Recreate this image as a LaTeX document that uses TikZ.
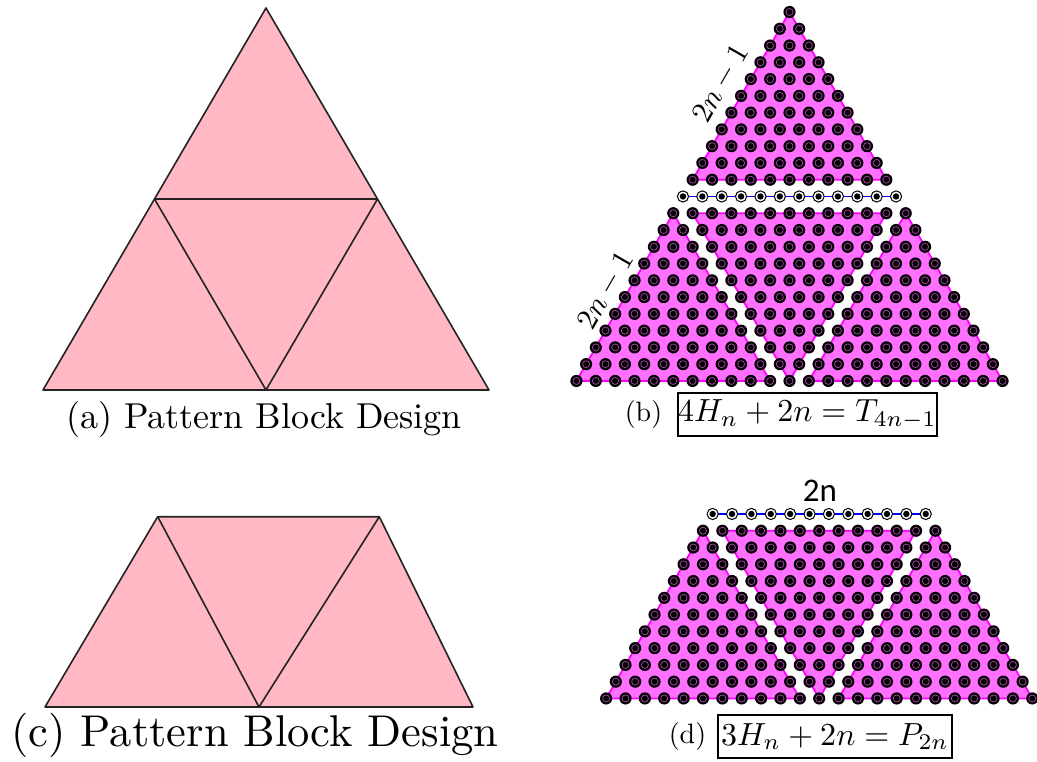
\documentclass[tikz,border=0pt]{standalone}
\usepackage{fontspec}
\newfontfamily\sanslabel{Carlito}
\usetikzlibrary{calc}

\definecolor{blockpink}{RGB}{255,184,196}
\definecolor{blockedge}{RGB}{35,35,35}
\definecolor{regionfill}{RGB}{255,112,255}
\definecolor{regionedge}{RGB}{255,0,255}
\definecolor{beadring}{RGB}{175,70,175}

\def\dd{19.37}
\def\hh{16.77}

\begin{document}
\begin{tikzpicture}[x=1pt,y=-1pt,
	block/.style={fill=blockpink, draw=blockedge, line width=1.6pt, line join=round},
	region/.style={fill=regionfill, draw=regionedge, line width=1.8pt, line join=round},
	blueline/.style={blue, line width=1.8pt},
	caption/.style={font=\fontsize{10}{12}\selectfont, inner sep=0pt, anchor=base},
	eqbox/.style={draw, line width=1.5pt, font=\fontsize{10}{12}\selectfont, scale=3.2, inner sep=0pt, minimum height=13.4pt},
	sidelabel/.style={font=\fontsize{10}{12}\selectfont, scale=3, rotate=60, inner sep=0pt}
	]
	\useasboundingbox (0,0) rectangle (1037,762);
	
	% (a) pattern block triangle
	\coordinate (aT) at (266,8);
	\coordinate (aL) at (43,390);
	\coordinate (aR) at (489,390);
	\coordinate (aML) at ($(aT)!0.5!(aL)$);
	\coordinate (aMR) at ($(aT)!0.5!(aR)$);
	\coordinate (aMB) at ($(aL)!0.5!(aR)$);
	\draw[block] (aT) -- (aL) -- (aR) -- cycle;
	\draw[block, fill=none] (aML) -- (aMR) -- (aMB) -- cycle;
	\node[caption, scale=3.6] (capa) at (264,428) {(a) Pattern Block Design};
	
	% (c) pattern block trapezoid
	\coordinate (cTL) at (157.7,516.7);
	\coordinate (cTR) at (379.3,516.7);
	\coordinate (cL) at (45,707);
	\coordinate (cM) at (259,707);
	\coordinate (cR) at (473,707);
	\draw[block] (cTL) -- (cTR) -- (cR) -- (cL) -- cycle;
	\draw[block, fill=none] (cTL) -- (cM) -- (cTR);
	\node[caption, scale=4.45] (capc) at (255,746) {(c) Pattern Block Design};
	
	% lattice points of (b) and (d)
	\foreach \r in {1,...,23}{
		\pgfmathtruncatemacro\kmax{\r-1}
		\foreach \k in {0,...,\kmax}
			\coordinate (b-\r-\k) at ({789.5+(\k-(\r-1)/2)*\dd}, {12+(\r-1)*\hh});
	}
	\foreach \r in {12,...,23}{
		\pgfmathtruncatemacro\kmax{\r-1}
		\foreach \k in {0,...,\kmax}
			\coordinate (d-\r-\k) at ($(b-\r-\k)+(29.7,317.5)$);
	}
	
	% (b) regions
	\draw[region] (b-1-0) -- (b-11-0) -- (b-11-10) -- cycle;
	\foreach \p in {b,d}{
		\draw[region] (\p-13-0) -- (\p-23-0) -- (\p-23-10) -- cycle;
		\draw[region] (\p-13-1) -- (\p-13-11) -- (\p-23-11) -- cycle;
		\draw[region] (\p-13-12) -- (\p-23-12) -- (\p-23-22) -- cycle;
		\draw[blueline] (\p-12-0) -- (\p-12-11);
		\foreach \k in {0,...,11}{
			\filldraw[fill=white, draw=black, line width=1pt] (\p-12-\k) circle (5.6pt);
			\fill (\p-12-\k) circle (3.2pt);
		}
	}
	
	% beads
	\foreach \r in {1,...,11,13,14,...,23}{
		\pgfmathtruncatemacro\kmax{\r-1}
		\foreach \k in {0,...,\kmax}{
			\fill (b-\r-\k) circle (6.1pt);
			\draw[beadring, line width=0.7pt] (b-\r-\k) circle (3.5pt);
		}
	}
	\foreach \r in {13,...,23}{
		\pgfmathtruncatemacro\kmax{\r-1}
		\foreach \k in {0,...,\kmax}{
			\fill (d-\r-\k) circle (6.1pt);
			\draw[beadring, line width=0.7pt] (d-\r-\k) circle (3.5pt);
		}
	}
	
	% labels
	\node[sidelabel] (sideb1) at (721,84) {$2n-1$};
	\node[sidelabel] (sideb2) at (606,291) {$2n-1$};
	\node[font=\sanslabel\fontsize{33}{33}\selectfont, inner sep=0pt] (topd) at (820,491) {2n};
	
	\node[caption, scale=2.8] (tagb) at (643.5,421) {(b)};
	\node[eqbox, minimum width=80.9pt] (eqb) at (807.5,414.5) {$4H_n+2n=T_{4n-1}$};
	\node[caption, scale=2.8] (tagd) at (687.5,743) {(d)};
	\node[eqbox, minimum width=73.1pt] (eqd) at (835,736.5) {$3H_n+2n=P_{2n}$};
\end{tikzpicture}
\end{document}
